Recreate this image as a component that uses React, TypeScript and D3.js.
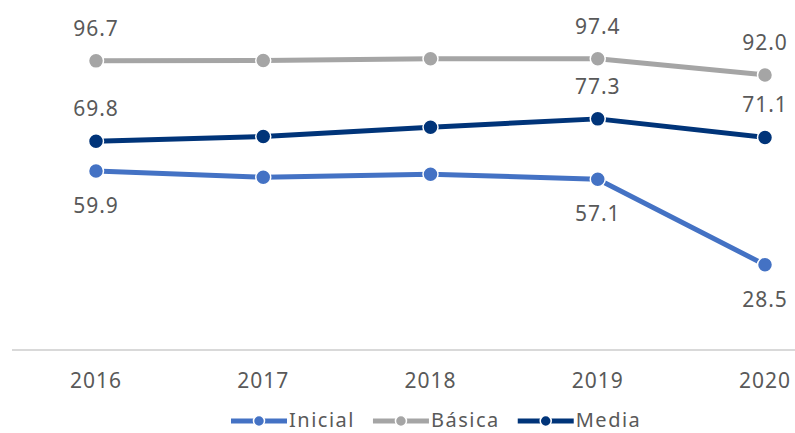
import { useEffect, useRef } from 'react'
import * as d3 from 'd3'

const YEARS = ['2016', '2017', '2018', '2019', '2020']
const INICIAL = [59.9, 57.8, 58.8, 57.1, 28.5]
const BASICA = [96.7, 96.8, 97.4, 97.4, 92.0]
const MEDIA = [69.8, 71.4, 74.5, 77.3, 71.1]
const LABELED = [0, 3, 4] // years that carry a value label

const SERIES = [
  { name: 'Inicial', values: INICIAL, color: '#4472C4', labelBelow: true },
  { name: 'Básica', values: BASICA, color: '#A5A5A5', labelBelow: false },
  { name: 'Media', values: MEDIA, color: '#003479', labelBelow: false },
]

const FONT = '"Noto Sans", sans-serif'
const TEXT = '#595959'

export default function App() {
  const svgRef = useRef<SVGSVGElement>(null)

  useEffect(() => {
    if (!svgRef.current) return
    const svg = d3.select(svgRef.current)
    svg.selectAll('*').remove()

    const W = 795
    const H = 433

    const x = d3.scalePoint<string>().domain(YEARS).range([96, 765])
    const y = d3.scaleLinear().domain([0, 100]).range([350, 51])

    // baseline
    svg.append('line')
      .attr('x1', 12).attr('x2', W).attr('y1', y(0)).attr('y2', y(0))
      .attr('stroke', '#d9d9d9').attr('stroke-width', 2)

    // year labels
    svg.append('g').selectAll('text')
      .data(YEARS)
      .join('text')
      .attr('x', d => x(d)!)
      .attr('y', 388)
      .attr('text-anchor', 'middle')
      .attr('font-family', FONT).attr('font-size', 21).attr('fill', TEXT)
      .attr('letter-spacing', 1)
      .text(d => d)

    const line = d3.line<number>()
      .x((_, i) => x(YEARS[i])!)
      .y(d => y(d))

    SERIES.forEach(s => {
      const g = svg.append('g')
      g.append('path')
        .attr('d', line(s.values))
        .attr('fill', 'none').attr('stroke', s.color).attr('stroke-width', 5)
        .attr('stroke-linejoin', 'round')

      g.selectAll('circle')
        .data(s.values)
        .join('circle')
        .attr('cx', (_, i) => x(YEARS[i])!)
        .attr('cy', d => y(d))
        .attr('r', 7.5)
        .attr('fill', s.color)
        .attr('stroke', '#fff').attr('stroke-width', 1.5)

      g.selectAll('text')
        .data(LABELED)
        .join('text')
        .attr('x', i => x(YEARS[i])!)
        .attr('y', i => y(s.values[i]) + (s.labelBelow ? 42 : -25))
        .attr('text-anchor', 'middle')
        .attr('font-family', FONT).attr('font-size', 21).attr('fill', TEXT)
        .attr('letter-spacing', 1)
        .text(i => s.values[i].toFixed(1))
    })

    // legend
    const legend = svg.append('g').attr('transform', `translate(231, 421)`)
    let off = 0
    SERIES.forEach(s => {
      const item = legend.append('g').attr('transform', `translate(${off},0)`)
      item.append('line').attr('x1', 0).attr('x2', 56).attr('y1', 0).attr('y2', 0)
        .attr('stroke', s.color).attr('stroke-width', 5)
      item.append('circle').attr('cx', 28).attr('cy', 0).attr('r', 5.5)
        .attr('fill', s.color).attr('stroke', '#fff').attr('stroke-width', 1.5)
      const t = item.append('text')
        .attr('x', 58).attr('y', 6)
        .attr('font-family', FONT).attr('font-size', 20).attr('fill', TEXT)
        .attr('letter-spacing', 1.5)
        .text(s.name)
      const tw = (t.node() as SVGTextElement).getComputedTextLength()
      off += 58 + tw + 18
    })

    svg.attr('width', W).attr('height', H)
  }, [])

  return (
    <svg
      ref={svgRef}
      width={795}
      height={433}
      style={{ position: 'absolute', left: 0, top: 0, background: '#fff' }}
    />
  )
}
